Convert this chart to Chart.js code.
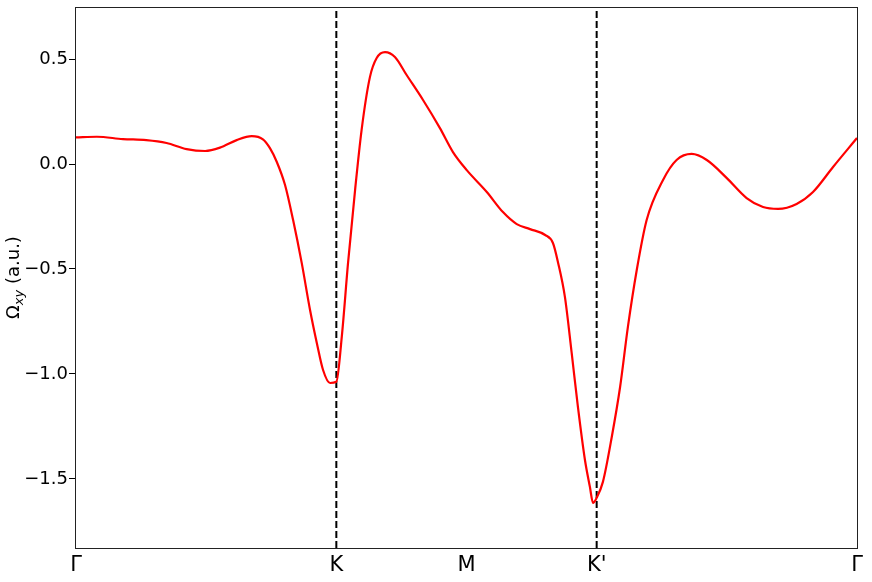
<!DOCTYPE html>
<html>
<head>
<meta charset="utf-8">
<script src="https://cdn.jsdelivr.net/npm/chart.js@4/dist/chart.umd.min.js"></script>
<style>
  html, body { margin: 0; padding: 0; background: #fff; }
  #wrap { width: 872px; height: 582px; }
</style>
</head>
<body>
<div id="wrap"><canvas id="berry"></canvas></div>
<script>
// k-path positions (Γ=0, K=1, M=1.5, K'=2, Γ=3) and Berry curvature values
const kPath = [0, 0.08, 0.18, 0.27, 0.348, 0.425, 0.496, 0.553, 0.617, 0.675, 0.718, 0.745, 0.771, 0.803,
  0.834, 0.867, 0.899, 0.925, 0.949, 0.976, 1.0, 1.021, 1.045, 1.072, 1.097, 1.129, 1.155, 1.187, 1.225,
  1.27, 1.333, 1.398, 1.448, 1.501, 1.578, 1.64, 1.693, 1.744, 1.802, 1.832, 1.852, 1.878, 1.904, 1.928,
  1.955, 1.974, 1.986, 2.0, 2.024, 2.058, 2.09, 2.12, 2.154, 2.192, 2.255, 2.307, 2.365, 2.423, 2.5,
  2.576, 2.639, 2.697, 2.768, 2.831, 2.908, 3.0];
const omegaXY = [0.127, 0.130, 0.119, 0.114, 0.100, 0.071, 0.062, 0.078, 0.114, 0.133, 0.118, 0.076, 0.011, -0.100,
  -0.267, -0.471, -0.695, -0.852, -0.981, -1.043, -1.037, -0.822, -0.471, -0.124, 0.162, 0.414, 0.505, 0.533, 0.510,
  0.424, 0.305, 0.171, 0.057, -0.029, -0.133, -0.229, -0.286, -0.310, -0.338, -0.376, -0.471, -0.633, -0.900, -1.157,
  -1.410, -1.538, -1.614, -1.590, -1.514, -1.300, -1.062, -0.776, -0.505, -0.267, -0.076, 0.019, 0.048, 0.019, -0.067,
  -0.162, -0.205, -0.214, -0.190, -0.133, -0.014, 0.124];

const kTicks = [0, 1, 1.5, 2, 3];
const kLabels = ['Γ', 'K', 'M', "K'", 'Γ'];
const yTicks = [-1.5, -1.0, -0.5, 0.0, 0.5];
const yMin = -1.829, yMax = 0.748;
const valleys = [1, 2];  // K and K'

const curve = kPath.map((k, i) => ({ x: k, y: omegaXY[i] }));

const valleyLines = valleys.map(k => ({
  data: [{ x: k, y: yMin }, { x: k, y: yMax }],
  borderColor: '#000',
  borderWidth: 2,
  borderDash: [7, 3],
  pointRadius: 0,
  fill: false
}));

const framePlugin = {
  id: 'frame',
  afterDraw(chart) {
    const { ctx, chartArea: a } = chart;
    ctx.save();
    ctx.strokeStyle = '#222';
    ctx.lineWidth = 1;
    ctx.strokeRect(Math.round(a.left) - 0.5, Math.round(a.top) + 0.5,
      Math.round(a.right - a.left) + 1, Math.round(a.bottom - a.top));

    // y-axis title with subscript
    const font = '18px "DejaVu Sans"';
    const subFont = 'italic 13px "DejaVu Sans"';
    ctx.fillStyle = '#000';
    ctx.font = font;
    const w1 = ctx.measureText('Ω').width;
    const w3 = ctx.measureText(' (a.u.)').width;
    ctx.font = subFont;
    const w2 = ctx.measureText('xy').width;
    const total = w1 + w2 + w3;
    ctx.translate(19, (a.top + a.bottom) / 2);
    ctx.rotate(-Math.PI / 2);
    ctx.textBaseline = 'alphabetic';
    ctx.textAlign = 'left';
    let x = -total / 2;
    ctx.font = font;
    ctx.fillText('Ω', x, 0);
    x += w1;
    ctx.font = subFont;
    ctx.fillText('xy', x, 4);
    x += w2;
    ctx.font = font;
    ctx.fillText(' (a.u.)', x, 0);
    ctx.restore();
  }
};

new Chart(document.getElementById('berry'), {
  type: 'line',
  data: {
    datasets: [
      {
        data: curve,
        borderColor: '#ff0000',
        borderWidth: 2.2,
        pointRadius: 0,
        cubicInterpolationMode: 'monotone',
        fill: false
      },
      ...valleyLines
    ]
  },
  options: {
    responsive: true,
    maintainAspectRatio: false,
    animation: false,
    events: [],
    layout: { padding: { left: 0, right: 15, top: 7, bottom: 0 } },
    plugins: { legend: { display: false }, tooltip: { enabled: false } },
    scales: {
      x: {
        type: 'linear',
        min: 0,
        max: 3,
        afterBuildTicks: s => { s.ticks = kTicks.map(v => ({ value: v })); },
        afterFit: s => { s.height = 34; s.paddingLeft = 0; s.paddingRight = 0; },
        grid: { display: false, drawTicks: false },
        border: { display: false },
        ticks: {
          padding: 5,
          color: '#000',
          font: { family: 'DejaVu Sans', size: 21 },
          maxRotation: 0,
          autoSkip: false,
          callback: v => kLabels[kTicks.indexOf(v)]
        }
      },
      y: {
        min: yMin,
        max: yMax,
        afterBuildTicks: s => { s.ticks = yTicks.map(v => ({ value: v })); },
        afterFit: s => { s.width = 76; s.paddingTop = 0; s.paddingBottom = 0; },
        grid: { display: true, drawOnChartArea: false, drawTicks: true, tickLength: 7, color: '#000' },
        border: { display: false },
        ticks: {
          padding: 1,
          color: '#000',
          font: { family: 'DejaVu Sans', size: 18 },
          autoSkip: false,
          callback: v => (v < 0 ? '\u2212' : '') + Math.abs(v).toFixed(1)
        }
      }
    }
  },
  plugins: [framePlugin]
});
</script>
</body>
</html>
